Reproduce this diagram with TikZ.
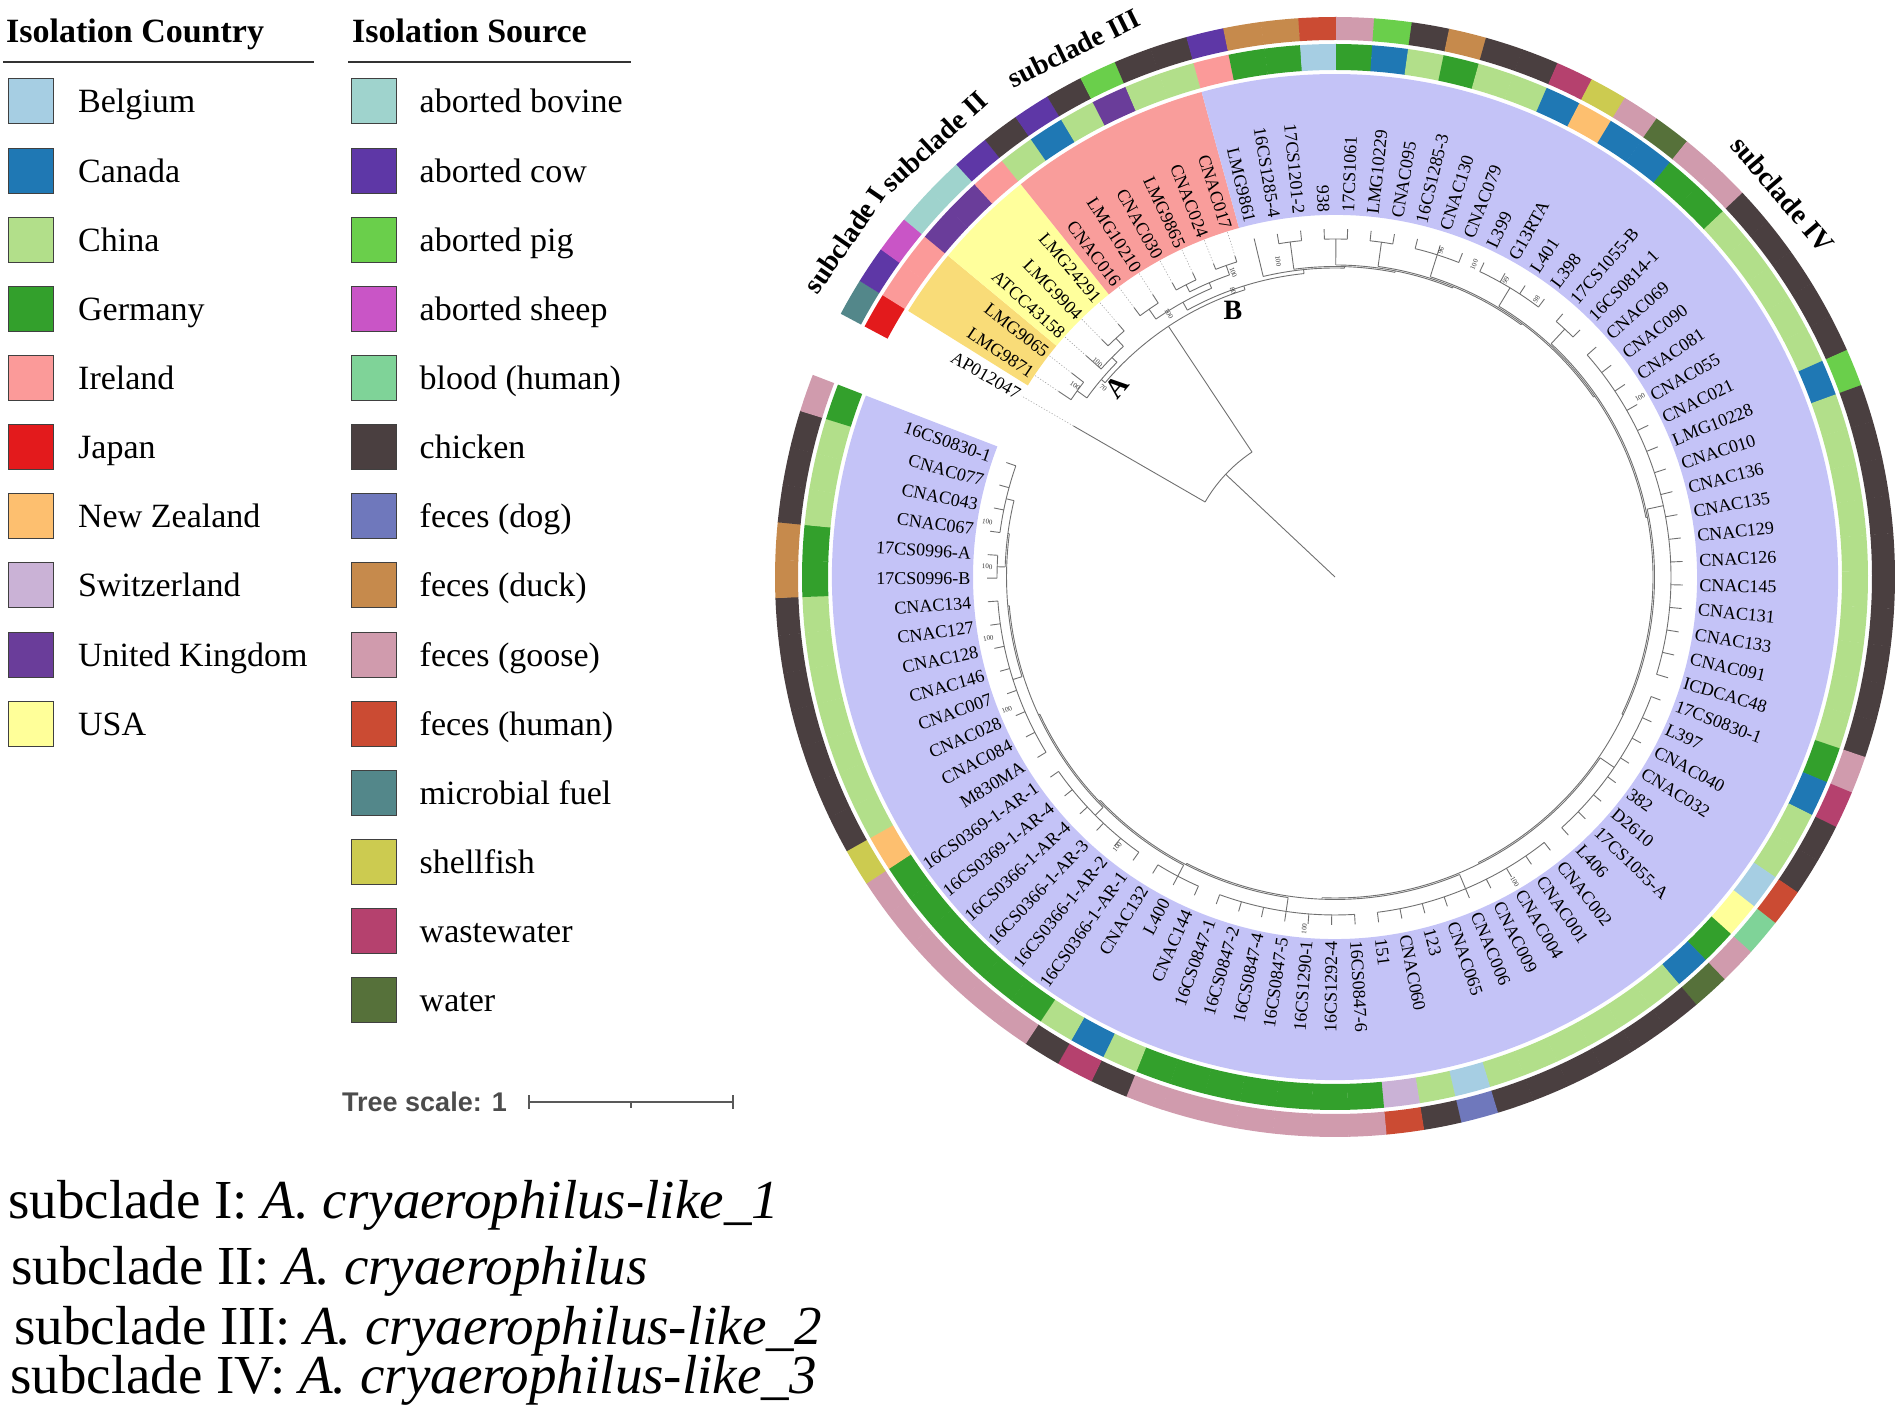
\documentclass[tikz,border=0pt]{standalone}
\usepackage{fontspec}
\setmainfont{Liberation Serif}
\setsansfont{Liberation Sans}
\usetikzlibrary{positioning}

% isolation country
\definecolor{cBelgium}{HTML}{A6CEE3}
\definecolor{cCanada}{HTML}{1F78B4}
\definecolor{cChina}{HTML}{B2DF8A}
\definecolor{cGermany}{HTML}{33A02C}
\definecolor{cIreland}{HTML}{FB9A99}
\definecolor{cJapan}{HTML}{E31A1C}
\definecolor{cNZ}{HTML}{FDBF6F}
\definecolor{cSwiss}{HTML}{CAB2D6}
\definecolor{cUK}{HTML}{6A3D9A}
\definecolor{cUSA}{HTML}{FFFF99}
% isolation source
\definecolor{sBovine}{HTML}{9FD3CD}
\definecolor{sCow}{HTML}{5E37A6}
\definecolor{sPig}{HTML}{6ACF4B}
\definecolor{sSheep}{HTML}{C955C6}
\definecolor{sBlood}{HTML}{7FD398}
\definecolor{sChicken}{HTML}{4A3F40}
\definecolor{sDog}{HTML}{6F78BC}
\definecolor{sDuck}{HTML}{C68A4C}
\definecolor{sGoose}{HTML}{D09BAD}
\definecolor{sHuman}{HTML}{CB4B33}
\definecolor{sFuel}{HTML}{53878A}
\definecolor{sShell}{HTML}{CCCB50}
\definecolor{sWaste}{HTML}{B5416E}
\definecolor{sWater}{HTML}{56713A}
% clade ranges
\definecolor{cladeI}{HTML}{F9DC78}
\definecolor{cladeII}{HTML}{FFFF9C}
\definecolor{cladeIII}{HTML}{F99D9B}
\definecolor{cladeIV}{HTML}{C4C3F7}
\definecolor{treegray}{HTML}{707070}

\newcommand{\annulus}[5]{%
  \fill[#1] (#2:#4) arc[start angle=#2, end angle=#3, radius=#4]
    -- (#3:#5) arc[start angle=#3, end angle=#2, radius=#5] -- cycle;}
\newcommand{\radline}[3]{\draw[branch] (#1:#2) -- (#1:#3);}
\newcommand{\nodearc}[3]{\draw[branch] (#2:#1) arc[start angle=#2, end angle=#3, radius=#1];}

\tikzset{
  branch/.style={draw=treegray, line width=0.9pt},
  leader/.style={draw=black!35, line width=0.6pt, dash pattern=on 1.2pt off 1.8pt},
  leaf/.style={inner sep=1.5pt, font=\fontsize{18}{20}\selectfont},
  boot/.style={inner sep=0pt, text=black!80, font=\fontsize{7}{8}\selectfont},
  cladelab/.style={inner sep=0pt, font=\bfseries\fontsize{28}{30}\selectfont},
  legtitle/.style={anchor=base west, inner sep=0pt, font=\bfseries\fontsize{34}{36}\selectfont},
  legbox/.style={draw=black!75, line width=1pt, minimum size=45pt, inner sep=0pt},
  legtext/.style={inner sep=0pt, text height=23pt, text depth=0pt, font=\fontsize{34}{36}\selectfont},
  scalebar/.style={draw=black!65, line width=1.6pt},
  note/.style={anchor=base west, inner sep=0pt, font=\fontsize{55}{60}\selectfont}
}

\begin{document}
\begin{tikzpicture}[x=1pt, y=1pt]
\useasboundingbox (0,0) rectangle (1902,1418);

% legend
\node[legtitle] (ctitle) at (6,1375) {Isolation Country};
\draw[line width=1.2pt, black!80] (3,1356) -- (314,1356);
\node[legtitle] (stitle) at (352,1375) {Isolation Source};
\draw[line width=1.2pt, black!80] (348,1356) -- (631,1356);
\foreach \nm/\col [count=\k from 0] in {Belgium/cBelgium, Canada/cCanada, China/cChina,
    Germany/cGermany, Ireland/cIreland, Japan/cJapan, New Zealand/cNZ,
    Switzerland/cSwiss, United Kingdom/cUK, USA/cUSA}
{
  \node[legbox, fill=\col] (cbox\k) at (31,1316.5-69.14*\k) {};
  \node[legtext, right=24pt of cbox\k] (cname\k) {\nm};
}
\foreach \nm/\col [count=\k from 0] in {aborted bovine/sBovine, aborted cow/sCow,
    aborted pig/sPig, aborted sheep/sSheep, blood (human)/sBlood, chicken/sChicken,
    feces (dog)/sDog, feces (duck)/sDuck, feces (goose)/sGoose, feces (human)/sHuman,
    microbial fuel/sFuel, shellfish/sShell, wastewater/sWaste, water/sWater}
{
  \node[legbox, fill=\col] (sbox\k) at (373.5,1316.5-69.14*\k) {};
  \node[legtext, right=23pt of sbox\k] (sname\k) {\nm};
}

% tree scale
\node[anchor=base west, inner sep=0pt, text=black!70,
  font=\sffamily\bfseries\fontsize{27}{30}\selectfont] (tscale) at (342,306) {Tree scale: 1};
\coordinate (sbL) at (529,316);
\coordinate (sbM) at (631,316);
\coordinate (sbR) at (733,316);
\draw[scalebar] (sbL) -- (sbR);
\draw[scalebar] ([yshift=-7pt]sbL) -- ([yshift=7pt]sbL);
\draw[scalebar] ([yshift=-7pt]sbR) -- ([yshift=7pt]sbR);
\draw[scalebar] (sbM) -- ([yshift=-6pt]sbM);

% subclade names
\node[note] (noteI) at (8,199) {subclade I: \textit{A. cryaerophilus-like\_1}};
\node[note] (noteII) at (11,133) {subclade II: \textit{A. cryaerophilus}};
\node[note] (noteIII) at (14,73) {subclade III: \textit{A. cryaerophilus-like\_2}};
\node[note] (noteIV) at (10,25) {subclade IV: \textit{A. cryaerophilus-like\_3}};

\begin{scope}[shift={(1335,841)}]
  % clade ranges
  \annulus{cladeI}{148.06}{140.30}{362}{503}
  \annulus{cladeII}{140.30}{128.66}{362}{503}
  \annulus{cladeIII}{128.66}{105.38}{362}{503}
  \annulus{cladeIV}{105.38}{-201.14}{362}{503}

  % leaves, rings and labels
  \foreach \lab/\cty/\src [count=\i] in {
    AP012047/cJapan/sFuel, LMG9871/cIreland/sCow, LMG9065/cIreland/sSheep,
    ATCC43158/cUK/sBovine, LMG9904/cUK/sBovine, LMG24291/cIreland/sCow,
    CNAC016/cChina/sChicken, LMG10210/cCanada/sCow, CNAC030/cChina/sChicken,
    LMG9865/cUK/sPig, CNAC024/cChina/sChicken, CNAC017/cChina/sChicken,
    LMG9861/cIreland/sCow, 16CS1285-4/cGermany/sDuck, 17CS1201-2/cGermany/sDuck,
    938/cBelgium/sHuman, 17CS1061/cGermany/sGoose, LMG10229/cCanada/sPig,
    CNAC095/cChina/sChicken, 16CS1285-3/cGermany/sDuck, CNAC130/cChina/sChicken,
    CNAC079/cChina/sChicken, L399/cCanada/sWaste, G13RTA/cNZ/sShell,
    L401/cCanada/sGoose, L398/cCanada/sWater, 17CS1055-B/cGermany/sGoose,
    16CS0814-1/cGermany/sGoose, CNAC069/cChina/sChicken, CNAC090/cChina/sChicken,
    CNAC081/cChina/sChicken, CNAC055/cChina/sChicken, CNAC021/cChina/sChicken,
    LMG10228/cCanada/sPig, CNAC010/cChina/sChicken, CNAC136/cChina/sChicken,
    CNAC135/cChina/sChicken, CNAC129/cChina/sChicken, CNAC126/cChina/sChicken,
    CNAC145/cChina/sChicken, CNAC131/cChina/sChicken, CNAC133/cChina/sChicken,
    CNAC091/cChina/sChicken, ICDCAC48/cChina/sChicken, 17CS0830-1/cGermany/sGoose,
    L397/cCanada/sWaste, CNAC040/cChina/sChicken, CNAC032/cChina/sChicken,
    382/cBelgium/sHuman, D2610/cUSA/sBlood, 17CS1055-A/cGermany/sGoose,
    L406/cCanada/sWater, CNAC002/cChina/sChicken, CNAC001/cChina/sChicken,
    CNAC004/cChina/sChicken, CNAC009/cChina/sChicken, CNAC006/cChina/sChicken,
    CNAC065/cChina/sChicken, 123/cBelgium/sDog, CNAC060/cChina/sChicken,
    151/cSwiss/sHuman, 16CS0847-6/cGermany/sGoose, 16CS1292-4/cGermany/sGoose,
    16CS1290-1/cGermany/sGoose, 16CS0847-5/cGermany/sGoose, 16CS0847-4/cGermany/sGoose,
    16CS0847-2/cGermany/sGoose, 16CS0847-1/cGermany/sGoose, CNAC144/cChina/sChicken,
    L400/cCanada/sWaste, CNAC132/cChina/sChicken, 16CS0366-1-AR-1/cGermany/sGoose,
    16CS0366-1-AR-2/cGermany/sGoose, 16CS0366-1-AR-3/cGermany/sGoose,
    16CS0366-1-AR-4/cGermany/sGoose, 16CS0369-1-AR-4/cGermany/sGoose,
    16CS0369-1-AR-1/cGermany/sGoose, M830MA/cNZ/sShell, CNAC084/cChina/sChicken,
    CNAC028/cChina/sChicken, CNAC007/cChina/sChicken, CNAC146/cChina/sChicken,
    CNAC128/cChina/sChicken, CNAC127/cChina/sChicken, CNAC134/cChina/sChicken,
    17CS0996-B/cGermany/sDuck, 17CS0996-A/cGermany/sDuck, CNAC067/cChina/sChicken,
    CNAC043/cChina/sChicken, CNAC077/cChina/sChicken, 16CS0830-1/cGermany/sGoose}
  {
    \pgfmathsetmacro\ang{150-(\i-1)*3.88}
    \pgfmathsetmacro\aa{\ang+1.96}
    \pgfmathsetmacro\ab{\ang-1.96}
    \annulus{\cty}{\aa}{\ab}{507}{533}
    \annulus{\src}{\aa}{\ab}{537}{560}
    \pgfmathtruncatemacro\side{and(\ang<90,\ang>-90)}
    \ifnum\side=1
      \node[leaf, anchor=west, rotate=\ang] (leaf\i) at (\ang:363) {\lab};
    \else
      \pgfmathsetmacro\rot{\ang>90 ? \ang-180 : \ang+180}
      \node[leaf, anchor=east, rotate=\rot] (leaf\i) at (\ang:363) {\lab};
    \fi
  }

  % root, outgroup and subclades I-III
  \radline{136.8}{0}{150}
  \nodearc{150}{150}{123.6}
  \radline{150}{150}{302}
  \radline{123.6}{150}{301}
  \nodearc{301}{139.8}{107.4}
  \radline{139.8}{301}{306}
  \nodearc{306}{144.18}{135.45}
  \radline{144.18}{306}{318}
  \nodearc{318}{146.12}{142.24}
  \radline{146.12}{318}{333}
  \radline{142.24}{318}{333}
  \radline{135.45}{306}{313}
  \nodearc{313}{138.36}{132.54}
  \radline{138.36}{313}{333}
  \radline{132.54}{313}{324}
  \nodearc{324}{134.48}{130.6}
  \radline{134.48}{324}{333}
  \radline{130.6}{324}{333}
  \radline{107.4}{301}{305}
  \nodearc{305}{118.96}{95.84}
  \radline{118.96}{305}{314}
  \nodearc{314}{124.78}{113.14}
  \radline{124.78}{314}{326}
  \nodearc{326}{126.72}{122.84}
  \radline{126.72}{326}{336}
  \radline{122.84}{326}{336}
  \radline{113.14}{314}{320}
  \nodearc{320}{117.02}{109.26}
  \radline{117.02}{320}{328}
  \nodearc{328}{118.96}{115.08}
  \radline{118.96}{328}{336}
  \radline{115.08}{328}{336}
  \radline{109.26}{320}{330}
  \nodearc{330}{111.2}{107.32}
  \radline{111.2}{330}{336}
  \radline{107.32}{330}{336}
  \foreach \j/\rt in {1/302, 2/333, 3/333, 4/333, 5/333, 6/333,
      7/336, 8/336, 9/336, 10/336, 11/336, 12/336}
  {
    \pgfmathsetmacro\aj{150-(\j-1)*3.88}
    \draw[leader] (\aj:\rt) -- (\aj:362);
  }

  % subclade IV
  \radline{95.84}{305}{309}
  \foreach \ra/\ca/\cr/\na/\nr in {
      309/103.44/348/88.24/310.5, 310.5/97.62/338/78.86/312,
      312/89.86/338/67.86/313.5, 313.5/82.10/338/53.61/315,
      315/72.40/338/34.83/316.5, 316.5/58.82/338/10.83/318,
      318/47.18/338/-25.53/319.5, 319.5/12.26/336/-63.31/321,
      321/-34.30/338/-92.32/322.5, 322.5/-67.28/338/-117.36/324,
      324/-98.32/338/-136.39/325.5, 325.5/-117.72/338/-155.07/327,
      327/-135.18/338/-174.95/328.5, 328.5/-162.34/338/-187.56/330,
      330/-181.74/338/-193.38/338}
  {
    \nodearc{\ra}{\ca}{\na}
    \radline{\ca}{\ra}{\cr}
    \radline{\na}{\ra}{\nr}
  }
  \foreach \fa/\la/\rc in {14/15/338, 16/17/338, 18/19/338, 20/22/338, 23/26/338,
      27/28/338, 29/44/336, 45/52/338, 53/61/338, 62/68/338, 69/71/338,
      72/77/338, 78/85/338, 86/87/338, 88/91/338}
  {
    \pgfmathsetmacro\af{150-(\fa-1)*3.88}
    \pgfmathsetmacro\al{150-(\la-1)*3.88}
    \nodearc{\rc}{\af}{\al}
    \foreach \j in {\fa,...,\la}
    {
      \pgfmathsetmacro\aj{150-(\j-1)*3.88}
      \radline{\aj}{\rc}{348}
    }
  }

  % bootstrap values
  \foreach \a/\r/\t/\rt [count=\b] in {143.6/323/100/-36, 137.9/320/100/-42,
      140.8/299/70/-39, 122.3/311/100/-58, 109.6/304/80/-70, 108.5/321/100/-71,
      100.2/321/100/-80, 72/343/96/72, 66/342/100/66, 60/342/99/60, 54/343/98/54,
      30.5/354/100/30, -59.5/354/100/-59, -95/353/100/85, -128.9/347/100/51,
      -158/354/100/22, -170/352/100/10, -181.7/348/100/-2, -189/352/100/-9}
  {
    \node[boot, rotate=\rt] (bs\b) at (\a:\r) {\t};
  }

  % node and subclade labels
  \node[cladelab, rotate=50] (nodeA) at (-218,190) {A};
  \node[cladelab] (nodeB) at (-102,267) {B};
  \node[cladelab, rotate=55.5] (labI) at (145.5:595) {subclade I};
  \node[cladelab, rotate=42.6] (labII) at (132.6:592) {subclade II};
  \node[cladelab, rotate=26.3] (labIII) at (116.3:590) {subclade III};
  \node[cladelab, rotate=-49.5] (labIV) at (40.5:589) {subclade IV};
\end{scope}
\end{tikzpicture}
\end{document}
